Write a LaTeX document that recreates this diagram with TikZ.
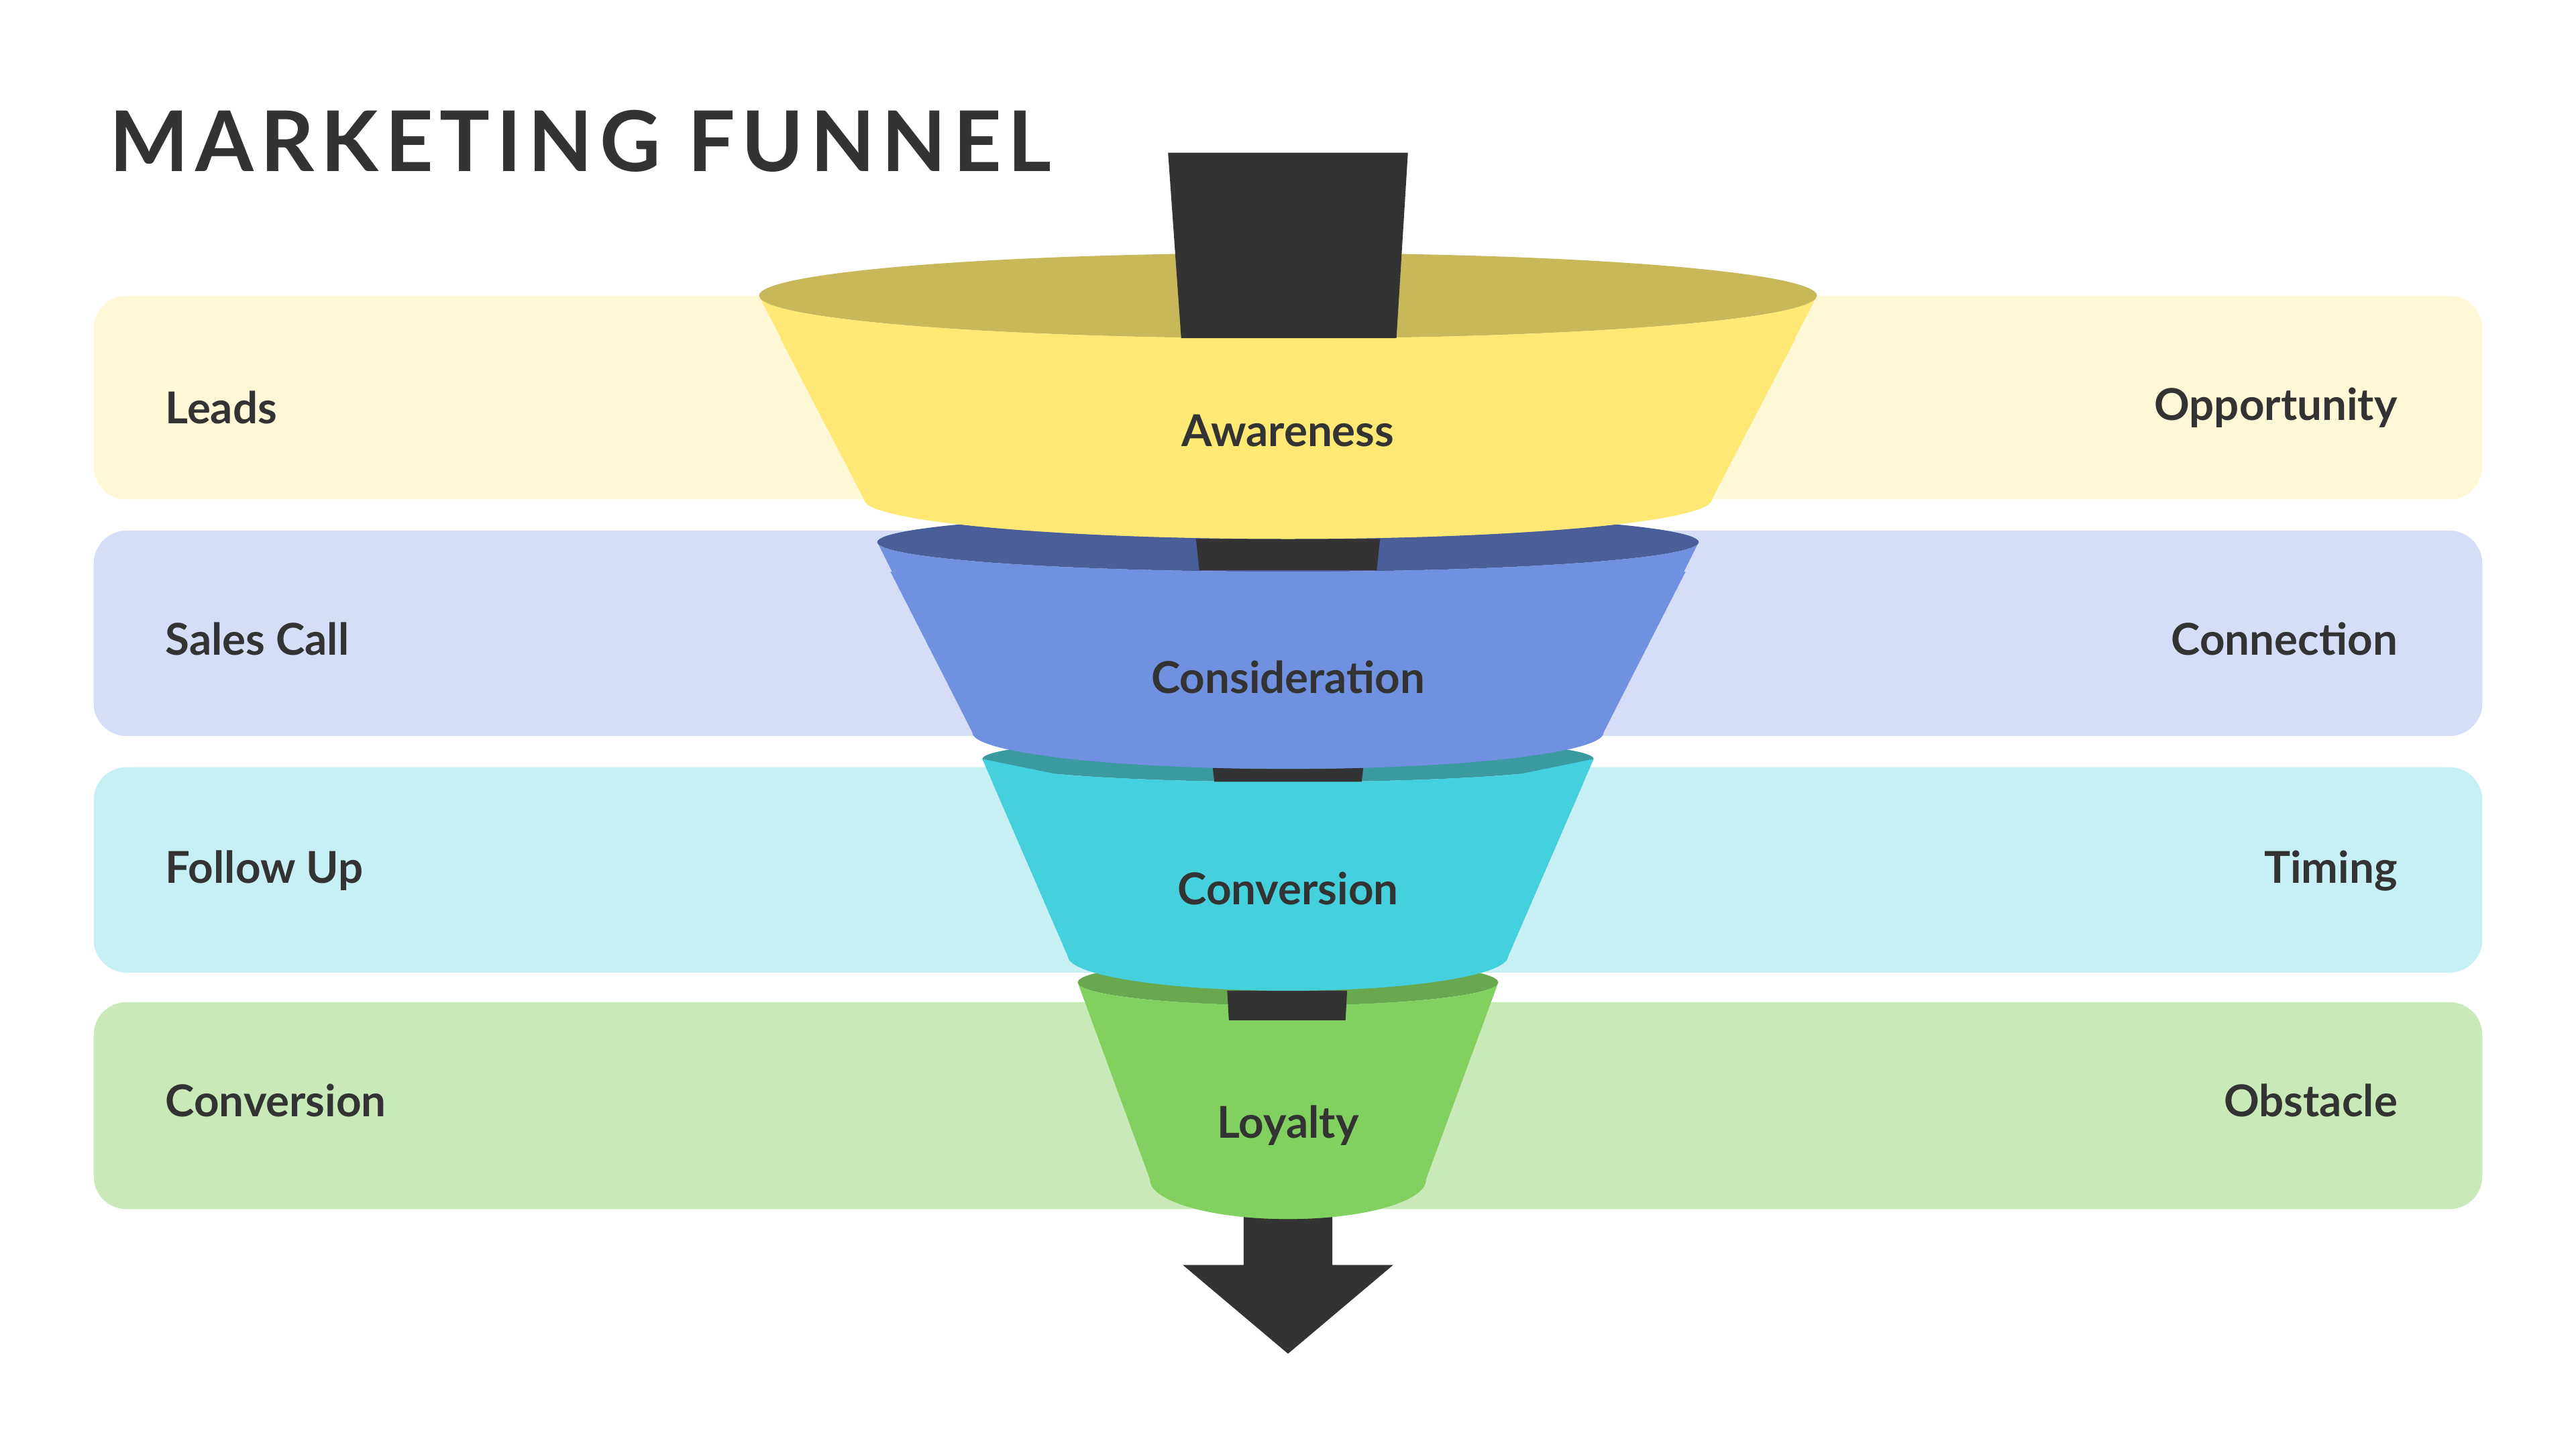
\documentclass[tikz,border=0pt]{standalone}
\usepackage{fontspec}
\setmainfont{Lato}
\begin{document}
\definecolor{ink}{HTML}{333333}
\definecolor{bandA}{HTML}{FFF8D6}\definecolor{bandB}{HTML}{D6DEF7}
\definecolor{bandC}{HTML}{C7F0F4}\definecolor{bandD}{HTML}{C9EAB8}
\definecolor{topA}{HTML}{C8B85A}\definecolor{bodyA}{HTML}{FFE873}
\definecolor{topB}{HTML}{4A5E9A}\definecolor{bodyB}{HTML}{7090E0}
\definecolor{topC}{HTML}{3A9AA0}\definecolor{bodyC}{HTML}{45D0DE}
\definecolor{topD}{HTML}{6AA850}\definecolor{bodyD}{HTML}{82D060}
\newcommand\funnelseg[8]{%
  \fill[#1] (784,-#3) ellipse[x radius=#4,y radius=#5];
  \fill[#2] ({784-#4},-#3) -- ({784-#7},-#6) arc[start angle=180,end angle=360,x radius=#7,y radius=#8]
     -- ({784+#4},-#3) arc[start angle=0,end angle=-180,x radius=#4,y radius=#5] -- cycle;}
\begin{tikzpicture}[x=0.01cm,y=0.01cm,
  band/.style={rounded corners=0.2cm},
  lbl/.style={font=\bfseries\fontsize{7.6pt}{9pt}\selectfont,text=ink,inner sep=0pt},
  tube/.style={fill=ink}]
\useasboundingbox (0,0) rectangle (1568,-882);
\fill[white] (0,0) rectangle (1568,-882);
\node[anchor=west,inner sep=0pt,text=ink,font=\bfseries\fontsize{14.5pt}{16pt}\selectfont\addfontfeatures{LetterSpace=8}] (title) at (66,-86) {MARKETING FUNNEL};
\fill[band,bandA] (57,-180) rectangle (1511,-304);
\fill[band,bandB] (57,-323) rectangle (1511,-448);
\fill[band,bandC] (57,-467) rectangle (1511,-592);
\fill[band,bandD] (57,-610) rectangle (1511,-736);
\node[lbl,anchor=west] (l1) at (100,-248) {Leads};
\node[lbl,anchor=west] (l2) at (100,-389) {Sales Call};
\node[lbl,anchor=west] (l3) at (100,-530) {Follow Up};
\node[lbl,anchor=west] (l4) at (100,-670) {Conversion};
\node[lbl,anchor=east] (r1) at (1460,-248) {Opportunity};
\node[lbl,anchor=east] (r2) at (1460,-389) {Connection};
\node[lbl,anchor=east] (r3) at (1460,-530) {Timing};
\node[lbl,anchor=east] (r4) at (1460,-670) {Obstacle};
% arrow
\fill[ink] (757,-735) -- (811,-735) -- (811,-770) -- (848,-770) -- (784,-824) -- (720,-770) -- (757,-770) -- cycle;
% green
\funnelseg{topD}{bodyD}{598}{128}{14}{718}{84}{24}
\fill[tube] (747,-603) -- (820,-603) -- (819,-621) -- (748,-621) -- cycle;
\fill[bodyD] (700,-718) arc[start angle=180,end angle=360,x radius=84,y radius=24] -- (868,-700) -- (700,-700) -- cycle;
% cyan
\funnelseg{topC}{bodyC}{462}{186}{14}{582}{134}{21}
\fill[tube] (738,-466) -- (830,-466) -- (828,-483) -- (740,-483) -- cycle;
\fill[bodyC] (598,-462) -- (650,-582) -- (918,-582) -- (970,-462) -- (784,-500) -- cycle;
\funnelseg{topC!0!bodyC}{bodyC}{476}{180}{0.1}{582}{134}{21}
% blue
\funnelseg{topB}{bodyB}{330}{250}{18}{446}{192}{22}
\fill[tube] (728,-328) -- (840,-328) -- (838,-347) -- (730,-347) -- cycle;
\funnelseg{bodyB}{bodyB}{348}{242}{0.1}{446}{192}{22}
% yellow
\funnelseg{topA}{bodyA}{180}{322}{26}{304}{258}{24}
\fill[tube] (711,-93) -- (857,-93) -- (850,-206) -- (719,-206) -- cycle;
\funnelseg{bodyA}{bodyA}{206}{309}{0.1}{304}{258}{24}
\node[lbl] (s1) at (784,-262) {Awareness};
\node[lbl] (s2) at (784,-412) {Consideration};
\node[lbl] (s3) at (784,-541) {Conversion};
\node[lbl] (s4) at (784,-685) {Loyalty};
\end{tikzpicture}
\end{document}
